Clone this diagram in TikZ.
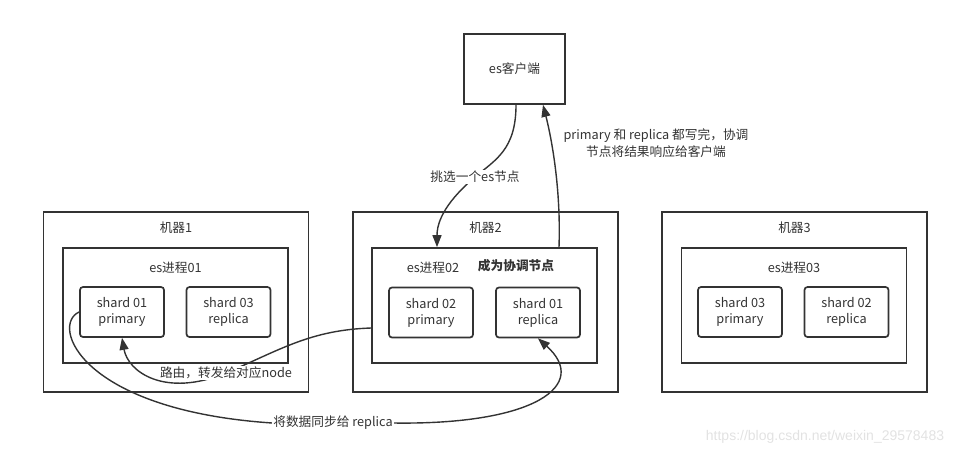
\documentclass[tikz,border=0pt]{standalone}
\usepackage{fontspec}
\setmainfont{Noto Sans CJK SC}
\newfontfamily\markfont{Liberation Sans}
\usetikzlibrary{arrows.meta, positioning, backgrounds}
\definecolor{cLine}{RGB}{51,51,51}
\definecolor{cMark}{RGB}{226,226,226}
\tikzset{
    machine/.style  ={rectangle, draw=cLine, line width=1.7pt, minimum width=265pt, minimum height=180pt},
    proc/.style     ={rectangle, draw=cLine, line width=1.7pt, minimum width=225pt, minimum height=115pt},
    shard/.style    ={rectangle, rounded corners=3pt, draw=cLine, line width=1.7pt, minimum width=84pt, minimum height=50pt, align=center, text=cLine},
    client/.style   ={rectangle, draw=cLine, line width=1.7pt, minimum width=101pt, minimum height=70pt, text=cLine},
    flowarrow/.style={-{Triangle[length=12pt, width=9pt]}, line width=1.4pt, draw=cLine},
    note/.style     ={fill=white, inner sep=1pt, text=cLine, align=center},
}

\begin{document}
\begin{tikzpicture}[x=1pt, y=-1pt, font=\fontsize{12.7}{16}\selectfont, title/.style={text=cLine}]
    \useasboundingbox (0,0) rectangle (973,456);
    % client
    \node[client] (client) at (514.5,69) {es客户端};
    % machines and processes
    \node[machine] (m1) at (176,302) {};
    \node[machine] (m2) at (485.5,302) {};
    \node[machine] (m3) at (794.5,302) {};
    \node[title, below=7pt of m1.north] (m1t) {机器1};
    \node[title, below=7pt of m2.north] (m2t) {机器2};
    \node[title, below=7pt of m3.north] (m3t) {机器3};
    \node[proc] (p1) at (175.5,305.5) {};
    \node[proc] (p2) at (484.5,305.5) {};
    \node[proc] (p3) at (794,305.5) {};
    \node[title, below=11pt of p1.north] (p1t) {es进程01};
    \node[title] (p2t) at (433,268) {es进程02};
    \node[title, font=\fontsize{12.7}{16}\selectfont\bfseries] (coord) at (516,266) {成为协调节点};
    \node[title, below=11pt of p3.north] (p3t) {es进程03};
    % shards
    \node[shard] (s1a) at (122,312)   {shard 01\\primary};
    \node[shard] (s1b) at (228.5,312) {shard 03\\replica};
    \node[shard] (s2a) at (431,312.5) {shard 02\\primary};
    \node[shard] (s2b) at (538,312.5) {shard 01\\replica};
    \node[shard] (s3a) at (740,312)   {shard 03\\primary};
    \node[shard] (s3b) at (846.5,312) {shard 02\\replica};
    % labels sitting on the connectors
    \node[note] (pick) at (475,177) {挑选一个es节点};
    \node[note] (route) at (226,373) {路由，转发给对应node};
    \node[note] (sync) at (333,423) {将数据同步给 replica};
    \node[note, fill=none, font=\fontsize{12.7}{17}\selectfont] (done) at (656,143) {primary 和 replica 都写完，协调\\节点将结果响应给客户端};
    \coordinate (pickin) at ([xshift=-47.5pt]p2.north);
    \begin{pgfonlayer}{background}
        % pick a node
        \draw[flowarrow] ([xshift=1.5pt]client.south) .. controls (516,150) and (495,160) .. (pick.center)
            .. controls (455,194) and (437,215) .. (pickin);
        % answer to client
        \draw[flowarrow] ([xshift=74.5pt]p2.north) .. controls (561,190) and (552,140) .. ([xshift=28.5pt]client.south);
        % routing
        \draw[flowarrow] ([yshift=-22.5pt]p2.west) .. controls (310,330) and (280,350) .. (route.center)
            .. controls (165,398) and (128,372) .. (s1a.south);
        % sync to replica
        \draw[line width=1.4pt, draw=cLine] (s1a.west) .. controls (50,325) and (80,410) .. (sync.west);
        \draw[flowarrow] (sync.east) .. controls (535,425) and (590,385) .. (s2b.south);
    \end{pgfonlayer}
    % watermark
    \node[text=cMark, font=\markfont\fontsize{14}{16}\selectfont] (mark) at (825,437) {https://blog.csdn.net/weixin\_29578483};
\end{tikzpicture}
\end{document}
